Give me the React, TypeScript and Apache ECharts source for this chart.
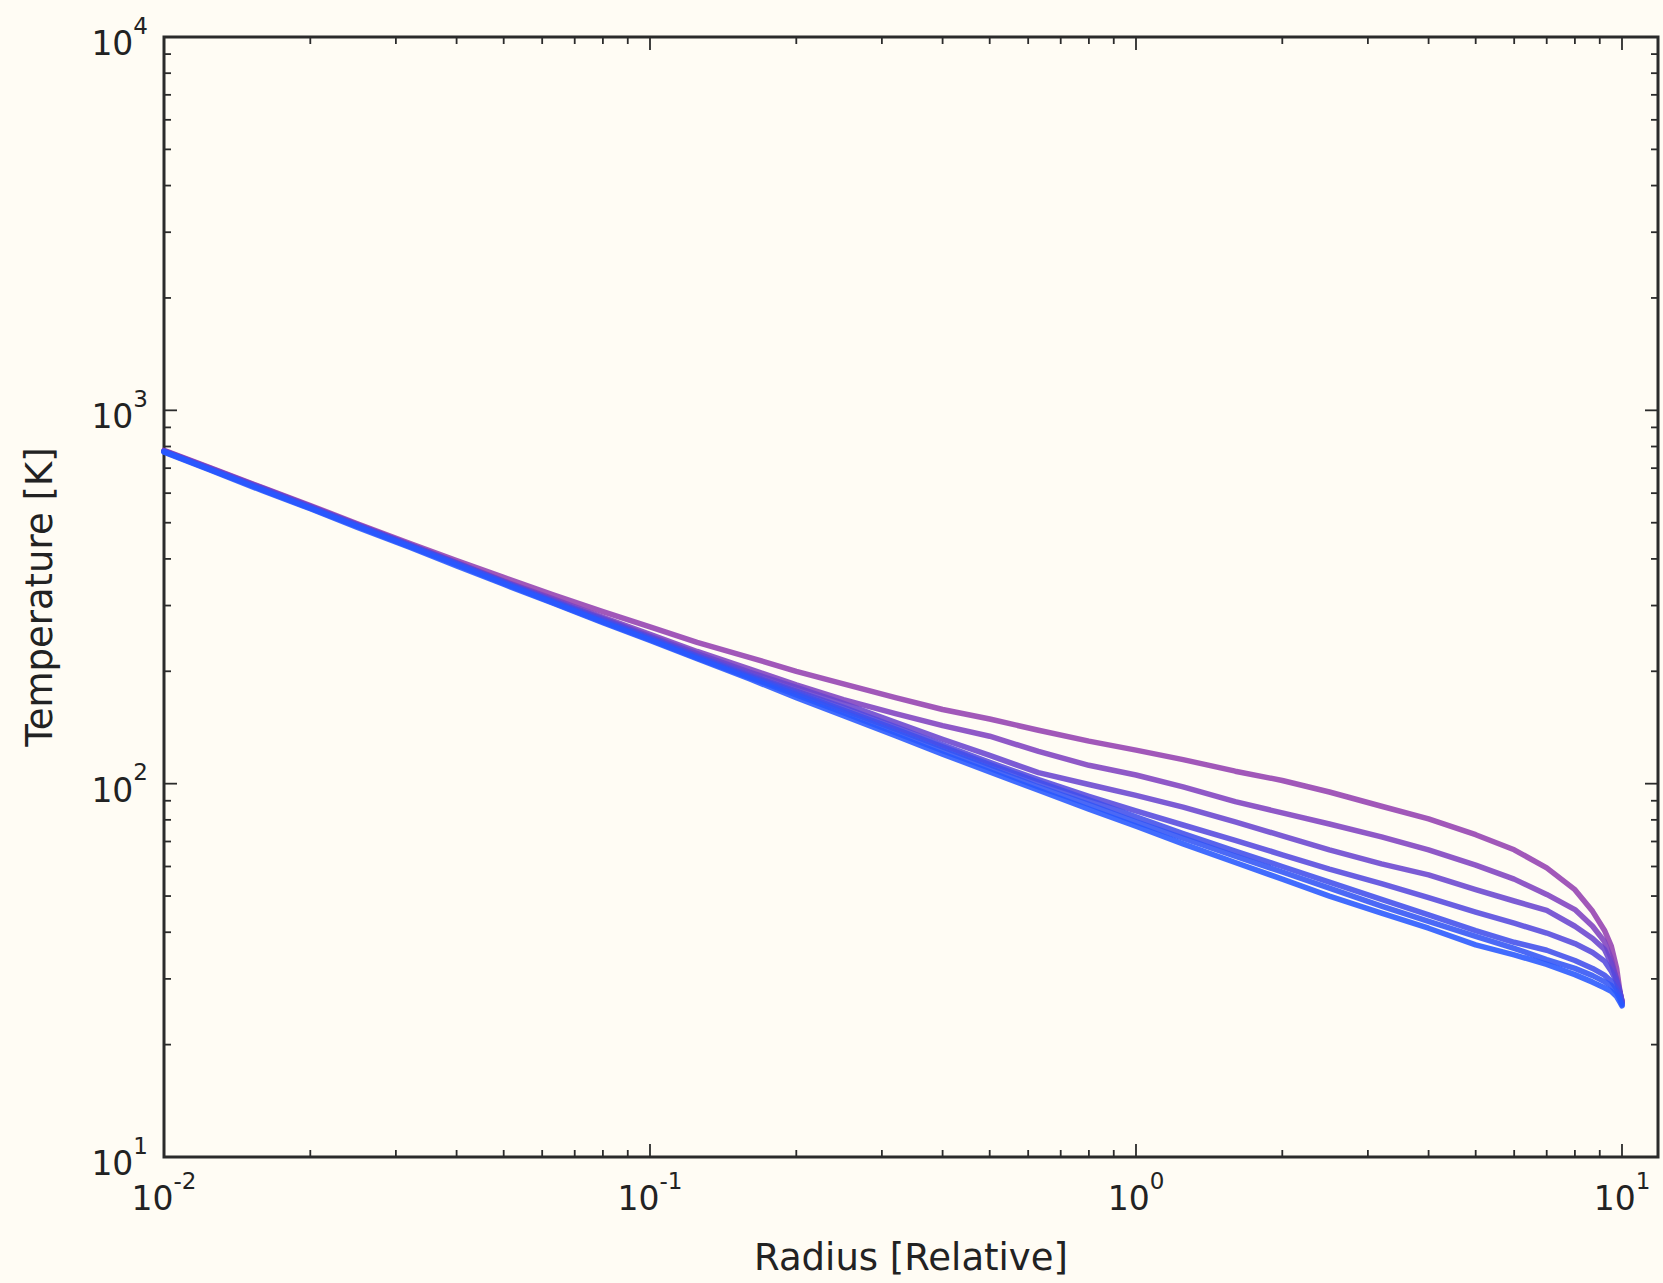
import React, { useEffect, useRef } from "react";
import * as echarts from "echarts";

const radius = [0.01, 0.0125, 0.016, 0.02, 0.025, 0.032, 0.04, 0.05, 0.063, 0.08, 0.1, 0.125, 0.16, 0.2, 0.25, 0.32, 0.4, 0.5, 0.63, 0.8, 1.0, 1.25, 1.6, 2.0, 2.5, 3.2, 4.0, 5.0, 6.0, 7.0, 8.0, 8.7, 9.2, 9.5, 9.75, 9.9, 10.0];

const temp1 = [781, 700, 620, 556, 497, 440, 396, 357, 321, 289, 263, 239, 218, 200, 185, 170, 158, 149, 139, 130, 123, 116, 108, 102, 95, 87, 80.5, 73, 66.5, 59.5, 52, 45.5, 40.5, 36.8, 32, 27.8, 25.9];
const temp2 = [779, 698, 618, 553, 494, 437, 391, 349, 313, 279, 251, 226, 203, 184, 168, 154, 143, 134, 122, 112, 105.5, 98, 89.5, 83.5, 78, 72, 66.5, 60.5, 55.5, 50.5, 46, 41.5, 37.8, 34, 29.5, 27.5, 26.3];
const temp3 = [778, 696, 616, 552, 493, 436, 390, 348, 311, 277, 248, 223, 199, 181, 164, 146, 131.5, 119, 107, 99.5, 93, 86.5, 79, 72.5, 66.5, 61, 57, 52, 48.5, 45.8, 41.5, 38.5, 36, 33, 30, 27.8, 26.1];
const temp4 = [777, 695, 615, 550, 492, 435, 389, 347, 309, 275, 246, 220, 196, 177, 160, 142, 127, 114, 102.5, 92.5, 84.5, 77.5, 70.5, 64.5, 59, 54, 49.5, 45.3, 42.3, 39.8, 37.3, 35.3, 33.5, 31.5, 29.5, 27.6, 25.9];
const temp5 = [776, 694, 613, 549, 491, 434, 388, 346, 308, 273, 245, 219, 194, 175, 157.5, 140, 125.5, 112.5, 101, 90.5, 81.5, 73.5, 66, 60, 54.5, 49, 44.5, 40.4, 37.6, 35.8, 33.6, 32, 30.7, 29.6, 28.2, 27, 25.8];
const temp6 = [775, 692, 611, 547, 489, 432, 386, 344, 306, 271, 243, 217, 192.5, 173, 155, 137, 122.5, 110, 98, 88, 79, 71.5, 64, 58, 52.5, 47, 42.8, 39, 36.2, 33.8, 32, 30.6, 29.5, 28.8, 27.6, 26.5, 25.6];
const temp7 = [773, 690, 608, 545, 486, 430, 383, 342, 305, 270, 242, 216, 191, 170, 152, 134.5, 120, 107.5, 96, 85.5, 77, 69, 61.5, 55.5, 50, 45, 41, 37, 34.8, 32.8, 30.8, 29.4, 28.4, 27.8, 26.9, 26.0, 25.4];

const temps = [temp1, temp2, temp3, temp4, temp5, temp6, temp7];
const lineColors = ["#9441b0", "#7f42c0", "#6a45cf", "#5549de", "#414eec", "#3254f6", "#2858ff"];

const xMajorTicks = [0.01, 0.1, 1, 10];
const xMinorTicks = [0.02, 0.03, 0.04, 0.05, 0.06, 0.07, 0.08, 0.09, 0.2, 0.3, 0.4, 0.5, 0.6, 0.7, 0.8, 0.9, 2, 3, 4, 5, 6, 7, 8, 9];
const yMajorTicks = [10, 100, 1000, 10000];
const yMinorTicks = [20, 30, 40, 50, 60, 70, 80, 90, 200, 300, 400, 500, 600, 700, 800, 900, 2000, 3000, 4000, 5000, 6000, 7000, 8000, 9000];

const X_MIN = 0.01;
const X_MAX = 11.86;
const Y_MIN = 10;
const Y_MAX = 10000;

const BG = "#fffcf4";
const INK = "#2b2b2b";
const FONT = "DejaVu Sans";

function powLabel(v: number) {
  const lg = Math.log10(v);
  const e = Math.round(lg);
  if (Math.abs(lg - e) > 1e-6) return "";
  return `{b|10}{s|${e}}`;
}

const labelRich = {
  b: { fontSize: 33, fontFamily: FONT, color: "#222", verticalAlign: "bottom", lineHeight: 46 },
  s: { fontSize: 23, fontFamily: FONT, color: "#222", verticalAlign: "top", lineHeight: 46 },
};

function xTickRenderer(len: number) {
  return (params: any, api: any) => {
    const cs = params.coordSys;
    const x = api.coord([api.value(0), Y_MIN])[0];
    const style = { stroke: INK, lineWidth: 1.8 };
    return {
      type: "group",
      children: [
        { type: "line", shape: { x1: x, y1: cs.y + cs.height, x2: x, y2: cs.y + cs.height - len }, style },
        { type: "line", shape: { x1: x, y1: cs.y, x2: x, y2: cs.y + len }, style },
      ],
    };
  };
}

function yTickRenderer(len: number) {
  return (params: any, api: any) => {
    const cs = params.coordSys;
    const y = api.coord([X_MIN, api.value(1)])[1];
    const style = { stroke: INK, lineWidth: 1.8 };
    return {
      type: "group",
      children: [
        { type: "line", shape: { x1: cs.x, y1: y, x2: cs.x + len, y2: y }, style },
        { type: "line", shape: { x1: cs.x + cs.width, y1: y, x2: cs.x + cs.width - len, y2: y }, style },
      ],
    };
  };
}

export default function App() {
  const ref = useRef<HTMLDivElement>(null);
  useEffect(() => {
    if (!ref.current) return;
    const chart = echarts.init(ref.current, null, { renderer: "svg", width: 1663, height: 1283 });
    const lineSeries = temps.map((t, i) => ({
      type: "line",
      name: `profile ${i + 1}`,
      data: radius.map((r, j) => [r, t[j]]),
      showSymbol: false,
      symbol: "none",
      lineStyle: { color: lineColors[i], width: 5.5, opacity: 0.88, join: "round", cap: "round" },
      itemStyle: { color: lineColors[i] },
      z: 2 + i,
      silent: true,
    }));
    const tickSeries = [
      { type: "custom", data: xMajorTicks.map((v) => [v, Y_MIN]), renderItem: xTickRenderer(13), clip: false, z: 20, silent: true },
      { type: "custom", data: xMinorTicks.map((v) => [v, Y_MIN]), renderItem: xTickRenderer(7), clip: false, z: 20, silent: true },
      { type: "custom", data: yMajorTicks.map((v) => [X_MIN, v]), renderItem: yTickRenderer(13), clip: false, z: 20, silent: true },
      { type: "custom", data: yMinorTicks.map((v) => [X_MIN, v]), renderItem: yTickRenderer(7), clip: false, z: 20, silent: true },
    ];
    chart.setOption({
      animation: false,
      backgroundColor: BG,
      grid: {
        left: 164,
        right: 5,
        top: 37,
        bottom: 126,
        show: true,
        borderColor: INK,
        borderWidth: 3,
        backgroundColor: BG,
        containLabel: false,
      },
      xAxis: {
        type: "log",
        logBase: 10,
        min: X_MIN,
        max: X_MAX,
        name: "Radius [Relative]",
        nameLocation: "middle",
        nameGap: 82,
        nameTextStyle: { fontSize: 37, fontFamily: FONT, color: "#222" },
        axisLine: { show: false },
        axisTick: { show: false },
        splitLine: { show: false },
        axisLabel: { margin: 12, formatter: powLabel, rich: labelRich, showMinLabel: true, showMaxLabel: true, hideOverlap: false },
      },
      yAxis: {
        type: "log",
        logBase: 10,
        min: Y_MIN,
        max: Y_MAX,
        name: "Temperature [K]",
        nameLocation: "middle",
        nameGap: 106,
        nameRotate: 90,
        nameTextStyle: { fontSize: 37, fontFamily: FONT, color: "#222" },
        axisLine: { show: false },
        axisTick: { show: false },
        splitLine: { show: false },
        axisLabel: { margin: 16, formatter: powLabel, rich: labelRich, showMinLabel: true, showMaxLabel: true, hideOverlap: false },
      },
      series: [...lineSeries, ...tickSeries],
    });
    return () => chart.dispose();
  }, []);
  return <div ref={ref} style={{ position: "absolute", left: 0, top: 0, width: 1663, height: 1283 }} />;
}
